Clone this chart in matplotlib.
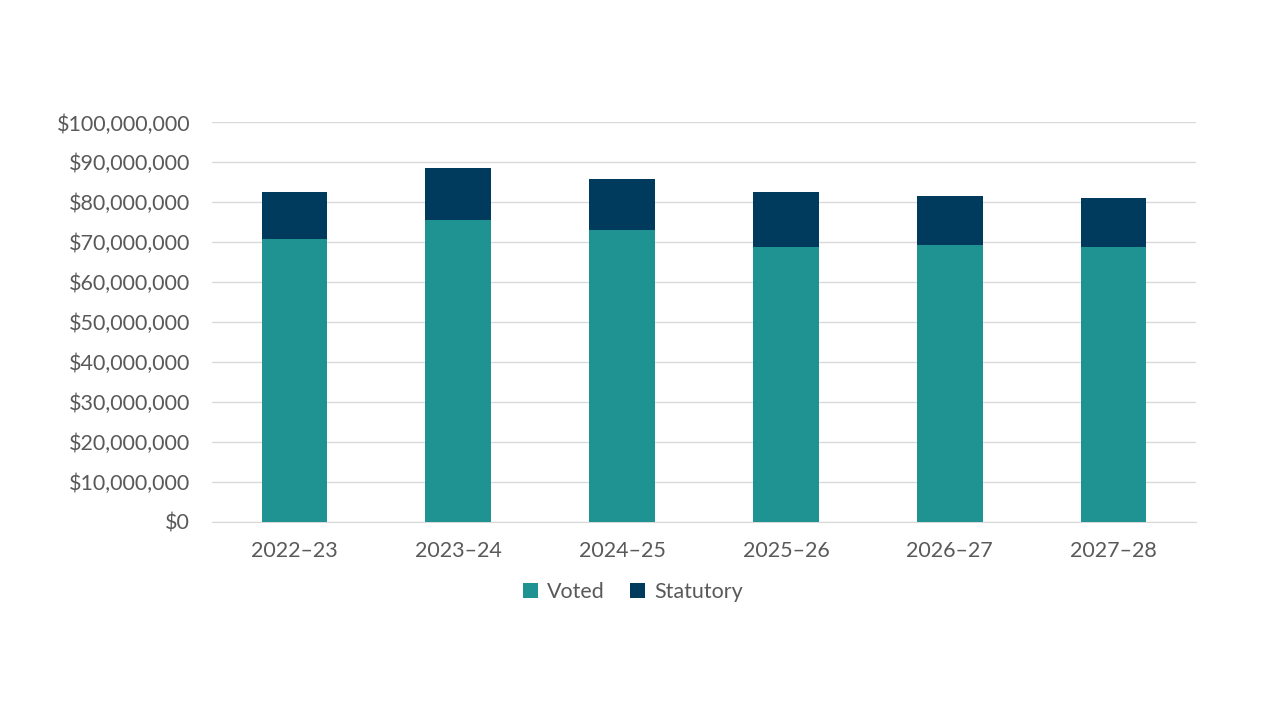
import matplotlib
matplotlib.use('Agg')
import matplotlib.pyplot as plt
from matplotlib.ticker import FuncFormatter, MultipleLocator

plt.rcParams['font.family'] = ['Lato', 'DejaVu Sans']

years = ['2022\u201323', '2023\u201324', '2024\u201325', '2025\u201326', '2026\u201327', '2027\u201328']
voted = [70.8e6, 75.6e6, 73.1e6, 68.8e6, 69.3e6, 68.8e6]
statutory = [11.8e6, 13.0e6, 12.7e6, 13.8e6, 12.3e6, 12.3e6]

c_voted = '#1f9391'
c_stat = '#003a5d'
grey = '#595959'

fig = plt.figure(figsize=(12.8, 7.2), dpi=100)
ax = fig.add_axes([0.166, 0.275, 0.768, 0.555])

x = range(len(years))
ax.bar(x, voted, width=0.4, color=c_voted, label='Voted', zorder=3)
ax.bar(x, statutory, width=0.4, bottom=voted, color=c_stat, label='Statutory', zorder=3)

ax.set_xlim(-0.5, len(years) - 0.5)
ax.set_ylim(0, 100e6)
ax.yaxis.set_major_locator(MultipleLocator(10e6))
ax.yaxis.set_major_formatter(FuncFormatter(lambda v, p: f'${v:,.0f}'))
ax.set_xticks(list(x))
ax.set_xticklabels(years)
ax.grid(axis='y', color='#d9d9d9', linewidth=1, zorder=0)
for s in ['top', 'right', 'left']:
    ax.spines[s].set_visible(False)
ax.spines['bottom'].set_color('#d9d9d9')
ax.tick_params(axis='both', length=0, labelsize=15.5, colors=grey)
ax.tick_params(axis='y', pad=16)
ax.tick_params(axis='x', pad=14)

leg = fig.legend(loc='center', bbox_to_anchor=(633 / 1280, 1 - 592 / 720), ncol=2, frameon=False,
                 fontsize=15.5, handlelength=0.7, handleheight=0.7, handletextpad=0.4, columnspacing=1.2)
for t in leg.get_texts():
    t.set_color(grey)

fig.savefig('out.png', dpi=100, facecolor='white')
